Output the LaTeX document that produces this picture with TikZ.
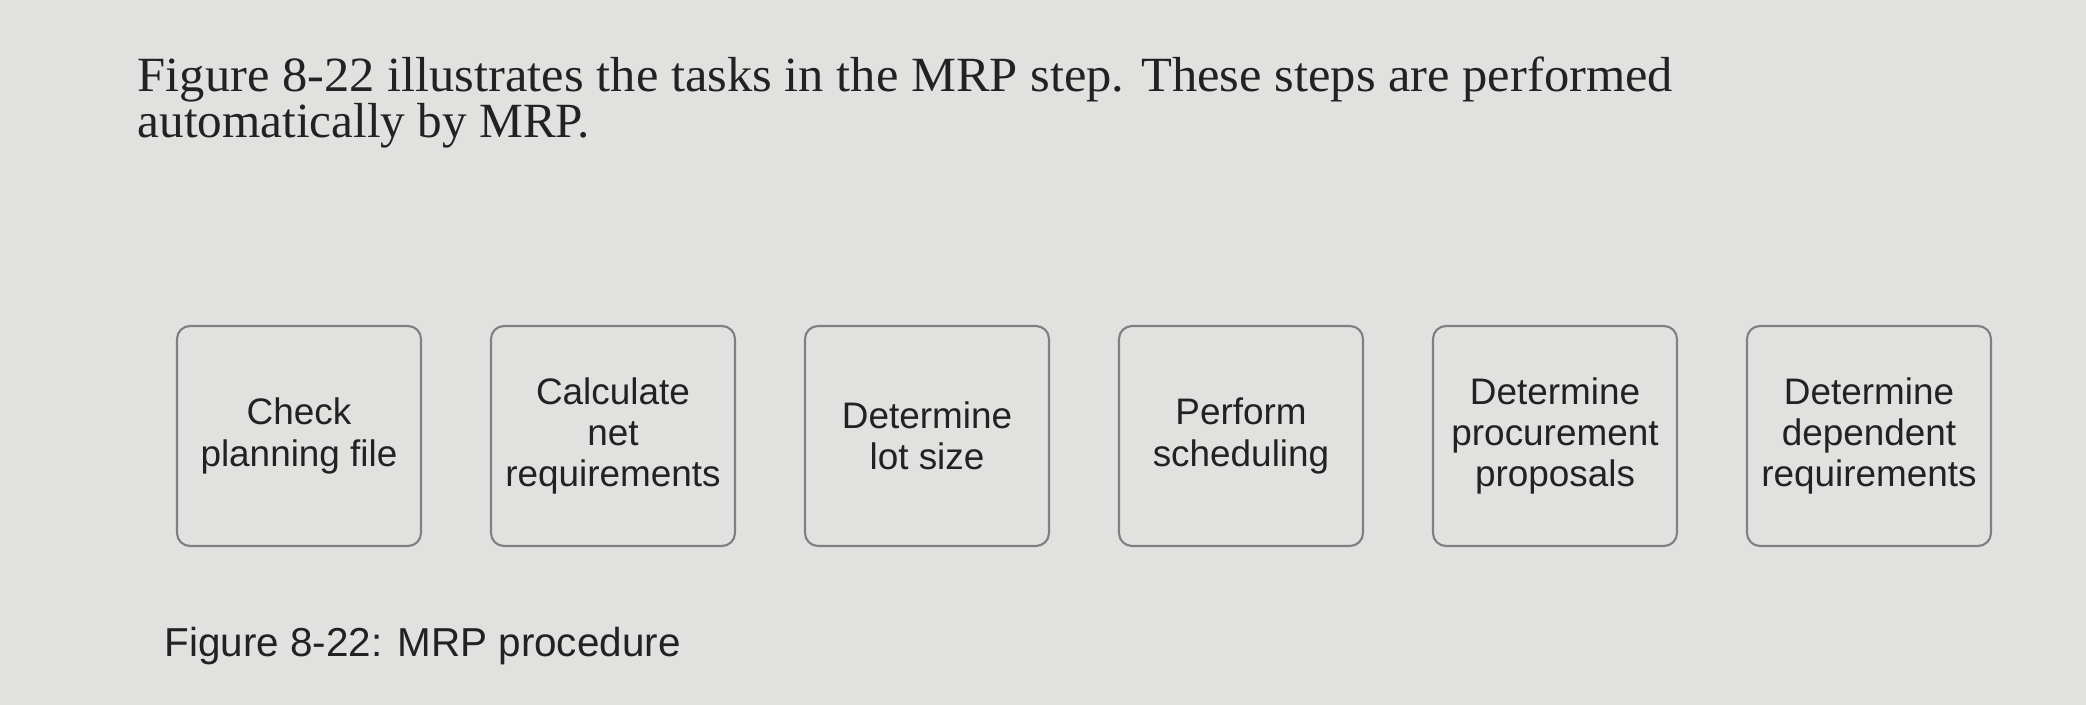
\documentclass[tikz,border=0pt]{standalone}
\usepackage{fontspec}
\setmainfont{Liberation Serif}
\setsansfont{Liberation Sans}
\usetikzlibrary{positioning}

\definecolor{paper}{RGB}{225,225,223}
\definecolor{ink}{RGB}{34,34,34}
\definecolor{frame}{RGB}{128,128,128}

\begin{document}
\begin{tikzpicture} [node distance = 3.14cm,
                on grid,
                task/.style = {draw=frame, line width=0.6pt, rounded corners=1.3mm,
                    minimum width=2.44cm, minimum height=2.2cm, align=center,
                    text=ink, font=\sffamily\fontsize{10.5}{11.7}\selectfont},
                prose/.style = {anchor=base west, inner sep=0pt, text=ink,
                    font=\fontsize{14}{15}\selectfont}]

            % Page
            \fill [paper] (0,0) rectangle (20.86,-7.05);
            \useasboundingbox (0,0) rectangle (20.86,-7.05);

            % Text above the figure
            \node (intro1) [prose] at (1.37,-0.92)
                {\addfontfeature{FakeStretch=1.027}Figure 8-22 illustrates the tasks in the MRP step. These steps are performed};
            \node (intro2) [prose] at (1.37,-1.38)
                {automatically by MRP.};

            % Task 1
            \node (check) [task] at (2.99,-4.36)
                {Check\\planning file};

            % Task 2
            \node (netreq) [task,
                right = of check] {Calculate\\net\\requirements};

            % Task 3
            \node (lotsize) [task,
                right = of netreq] {Determine\\lot size};

            % Task 4
            \node (sched) [task,
                right = of lotsize] {Perform\\scheduling};

            % Task 5
            \node (procure) [task,
                right = of sched] {Determine\\procurement\\proposals};

            % Task 6
            \node (depreq) [task,
                right = of procure] {Determine\\dependent\\requirements};

            % Caption
            \node (caption) [anchor=base west, inner sep=0pt, text=ink,
                font=\sffamily\fontsize{11.5}{13}\selectfont] at (1.64,-6.57)
                {Figure 8-22: MRP procedure};
\end{tikzpicture}
\end{document}
